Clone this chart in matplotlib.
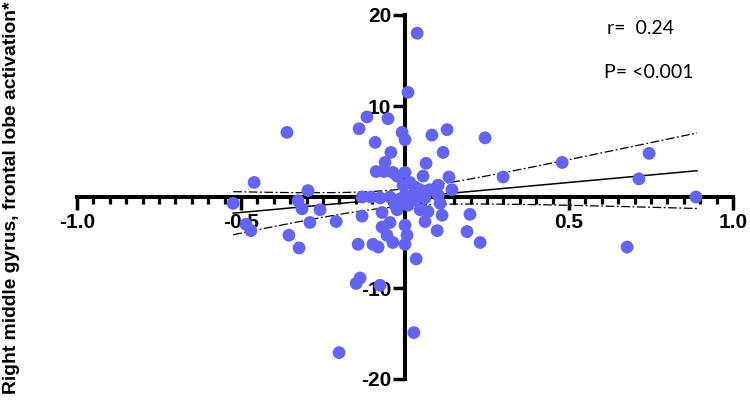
import matplotlib
matplotlib.use('Agg')
import matplotlib.pyplot as plt
from matplotlib.ticker import MultipleLocator, FixedLocator
import numpy as np

plt.rcParams['axes.unicode_minus'] = False

# scatter values (x: correlation-ish score, y: activation)
x_vals = [0.037, 0.009, -0.360, -0.116, -0.052, -0.140, -0.009, 0.000, -0.091, 0.082,
          0.128, 0.244, 0.116, -0.043, -0.061, -0.088, -0.064, -0.037, -0.024, 0.064,
          0.000, 0.055, 0.134, -0.460, -0.296, 0.299, 0.479, 0.744, 0.713, 0.887,
          0.101, 0.143, 0.015, 0.030, -0.006, 0.046, 0.101, 0.000, 0.040, -0.131,
          -0.104, -0.076, -0.046, -0.015, 0.021, 0.061, -0.030, 0.009, 0.030, 0.076,
          -0.524, -0.326, -0.314, -0.259, -0.485, -0.470, -0.290, -0.210, -0.354, -0.323,
          -0.131, -0.070, -0.024, -0.070, -0.046, 0.000, -0.055, -0.037, 0.000, -0.143,
          -0.098, -0.082, 0.034, 0.046, 0.070, 0.113, 0.198, 0.061, 0.006, 0.098,
          0.189, 0.229, 0.107, 0.677, -0.137, -0.149, -0.076, 0.027, -0.201]
y_vals = [18.0, 11.5, 7.1, 8.8, 8.6, 7.5, 7.1, 6.3, 6.0, 6.8,
          7.4, 6.5, 4.9, 4.9, 3.8, 2.8, 2.8, 2.7, 2.3, 3.7,
          2.7, 2.3, 2.2, 1.6, 0.7, 2.2, 3.8, 4.8, 2.0, 0.0,
          1.3, 0.8, 1.6, 1.1, 1.3, 0.8, 0.2, 0.2, 0.4, 0.0,
          0.0, -0.1, 0.0, -0.2, 0.2, -0.1, -0.9, -0.9, -0.3, 0.8,
          -0.7, -0.4, -1.3, -1.4, -3.0, -3.7, -2.8, -2.7, -4.2, -5.6,
          -2.1, -1.7, -1.4, -3.3, -2.8, -3.1, -4.2, -5.0, -5.2, -5.2,
          -5.2, -5.5, -6.8, -1.4, -1.6, -2.0, -1.9, -2.7, -4.2, -3.7,
          -3.8, -5.0, -0.7, -5.5, -8.9, -9.5, -9.7, -14.9, -17.1]

# regression line and 95% band
fit_slope = 3.3
fit_intercept = -0.05
fit_range = [-0.524, 0.89]
band_a = 0.88      # squared half-width at the band's centre
band_b = 19.3      # curvature of the band
band_centre = -0.03

r_text = 'r=  0.24'
p_text = 'P= <0.001'
ylabel = 'Right middle gyrus, frontal lobe activation*'

xticks = [-1.0, -0.5, 0.5, 1.0]
yticks = [-20, -10, 10, 20]

fig = plt.figure(figsize=(7.5, 4), dpi=100)
ax = fig.add_axes([0.1027, 0.0525, 0.8747, 0.91])

xs = np.linspace(fit_range[0], fit_range[1], 200)
fit = fit_slope * xs + fit_intercept
half = np.sqrt(band_a + band_b * (xs - band_centre) ** 2)
ax.plot(xs, fit, color='black', lw=1.1, zorder=3)
ax.plot(xs, fit + half, color='black', lw=0.9, dashes=(7, 2, 1.5, 2), zorder=3)
ax.plot(xs, fit - half, color='black', lw=0.9, dashes=(7, 2, 1.5, 2), zorder=3)

ax.scatter(x_vals, y_vals, s=85, color='#6464F2', edgecolors='none', zorder=10, clip_on=False)

ax.set_xlim(-1.0, 1.0)
ax.set_ylim(-20, 20)
for s in ['top', 'right']:
    ax.spines[s].set_visible(False)
ax.spines['left'].set_position(('data', 0))
ax.spines['bottom'].set_position(('data', 0))
ax.spines['left'].set_bounds(-20, 20)
ax.spines['bottom'].set_bounds(-1, 1)
for s in ['left', 'bottom']:
    ax.spines[s].set_linewidth(2.9)
    ax.spines[s].set_capstyle('projecting')

ax.xaxis.set_major_locator(FixedLocator(xticks))
ax.xaxis.set_minor_locator(MultipleLocator(0.05))
ax.set_xticklabels(['%.1f' % t for t in xticks])
ax.yaxis.set_major_locator(FixedLocator(yticks))
ax.set_yticklabels(['%d' % t for t in yticks])

ax.tick_params(axis='x', which='major', direction='out', length=9.5, width=2.5, pad=2)
ax.tick_params(axis='x', which='minor', direction='out', length=5, width=2.3)
ax.tick_params(axis='y', which='major', direction='out', length=9, width=2.5, pad=1)
for lab in ax.get_xticklabels() + ax.get_yticklabels():
    lab.set_fontfamily('Liberation Sans')
    lab.set_fontweight('bold')
    lab.set_fontsize(15)

fig.text(12 / 750, 1 - 198 / 400, ylabel, rotation=90, ha='center', va='center',
         fontfamily='Liberation Sans', fontweight='bold', fontsize=13.9)
fig.text(607 / 750, 1 - 28 / 400, r_text, ha='left', va='center',
         fontfamily='Lato', fontsize=14)
fig.text(604 / 750, 1 - 73 / 400, p_text, ha='left', va='center',
         fontfamily='Lato', fontsize=14)

fig.savefig('out.png', dpi=100)
